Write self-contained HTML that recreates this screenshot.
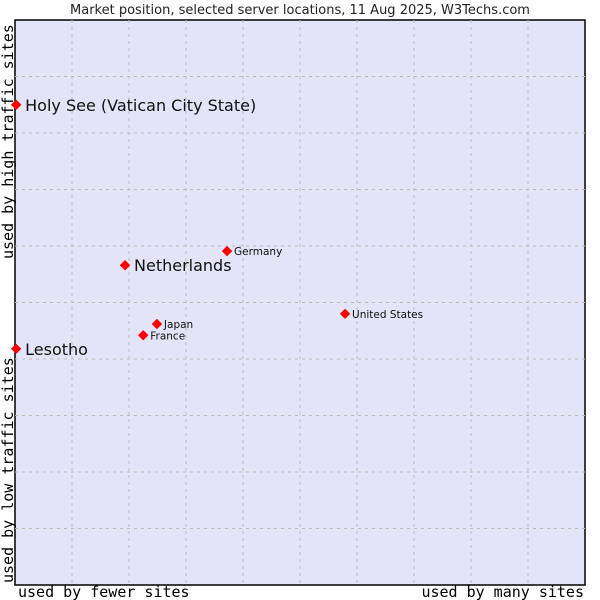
<!DOCTYPE html>
<html><head><meta charset="utf-8"><style>
body{margin:0;background:#fff;}
svg{display:block;font-family:"DejaVu Sans","Liberation Sans",sans-serif;}
.mono{font-family:"DejaVu Sans Mono","Liberation Mono",monospace;}
</style></head><body>
<svg id="chart" width="600" height="600">
<text x="300" y="14" text-anchor="middle" font-size="13" fill="#222">Market position, selected server locations, 11 Aug 2025, W3Techs.com</text>
<rect x="15" y="20" width="570" height="565" fill="#e3e4f8" stroke="#000" stroke-width="1.5"/>
<g id="grid"></g>
<g id="points"></g>
<text class="mono" x="18" y="597" font-size="15" fill="#000">used by fewer sites</text>
<text class="mono" x="584" y="597" font-size="15" fill="#000" text-anchor="end">used by many sites</text>
<text class="mono" transform="translate(13,583) rotate(-90)" font-size="15" fill="#000">used by low traffic sites</text>
<text class="mono" transform="translate(13,259) rotate(-90)" font-size="15" fill="#000">used by high traffic sites</text>
</svg>
<script>
const names = ["Holy See (Vatican City State)","Netherlands","Germany","United States","Japan","France","Lesotho"];
const xValues = [0.2,19.3,37.2,57.9,24.9,22.5,0.2];
const yValues = [85.0,56.6,59.1,48.0,46.2,44.2,41.8];
const highlighted = [true,true,false,false,false,false,true];
const L=15,R=585,T=20,B=585;
const sx=v=>L+v/100*(R-L);
const sy=v=>B-v/100*(B-T);
const NS="http://www.w3.org/2000/svg";
const grid=document.getElementById('grid');
for(let i=1;i<10;i++){
  const gx=document.createElementNS(NS,'line');
  gx.setAttribute('x1',sx(i*10));gx.setAttribute('x2',sx(i*10));gx.setAttribute('y1',T);gx.setAttribute('y2',B);
  gx.setAttribute('stroke','#bbb');gx.setAttribute('stroke-dasharray','3,4');
  
  
  grid.appendChild(gx);
  const gy=document.createElementNS(NS,'line');
  gy.setAttribute('y1',sy(i*10));gy.setAttribute('y2',sy(i*10));gy.setAttribute('x1',L);gy.setAttribute('x2',R);
  gy.setAttribute('stroke','#bbb');gy.setAttribute('stroke-dasharray','3,4');
  
  
  grid.appendChild(gy);
}
const pts=document.getElementById('points');
names.forEach((n,i)=>{
  const x=sx(xValues[i]),y=sy(yValues[i]);
  const d=document.createElementNS(NS,'path');
  d.setAttribute('d',`M${x-4.5},${y} L${x},${y-4.5} L${x+4.5},${y} L${x},${y+4.5}Z`);
  d.setAttribute('fill','#f00');
  d.setAttribute('stroke','#f00');d.setAttribute('stroke-width','1');d.setAttribute('stroke-linejoin','round');
  
  
  pts.appendChild(d);
  const t=document.createElementNS(NS,'text');
  const big=highlighted[i];
  t.setAttribute('x',x+(big?9:7));t.setAttribute('y',y+(big?6:4));
  t.setAttribute('font-size',big?'16':'10.5');
  t.setAttribute('fill','#111');
  t.textContent=n;
  
  
  pts.appendChild(t);
});
</script>
</body></html>
